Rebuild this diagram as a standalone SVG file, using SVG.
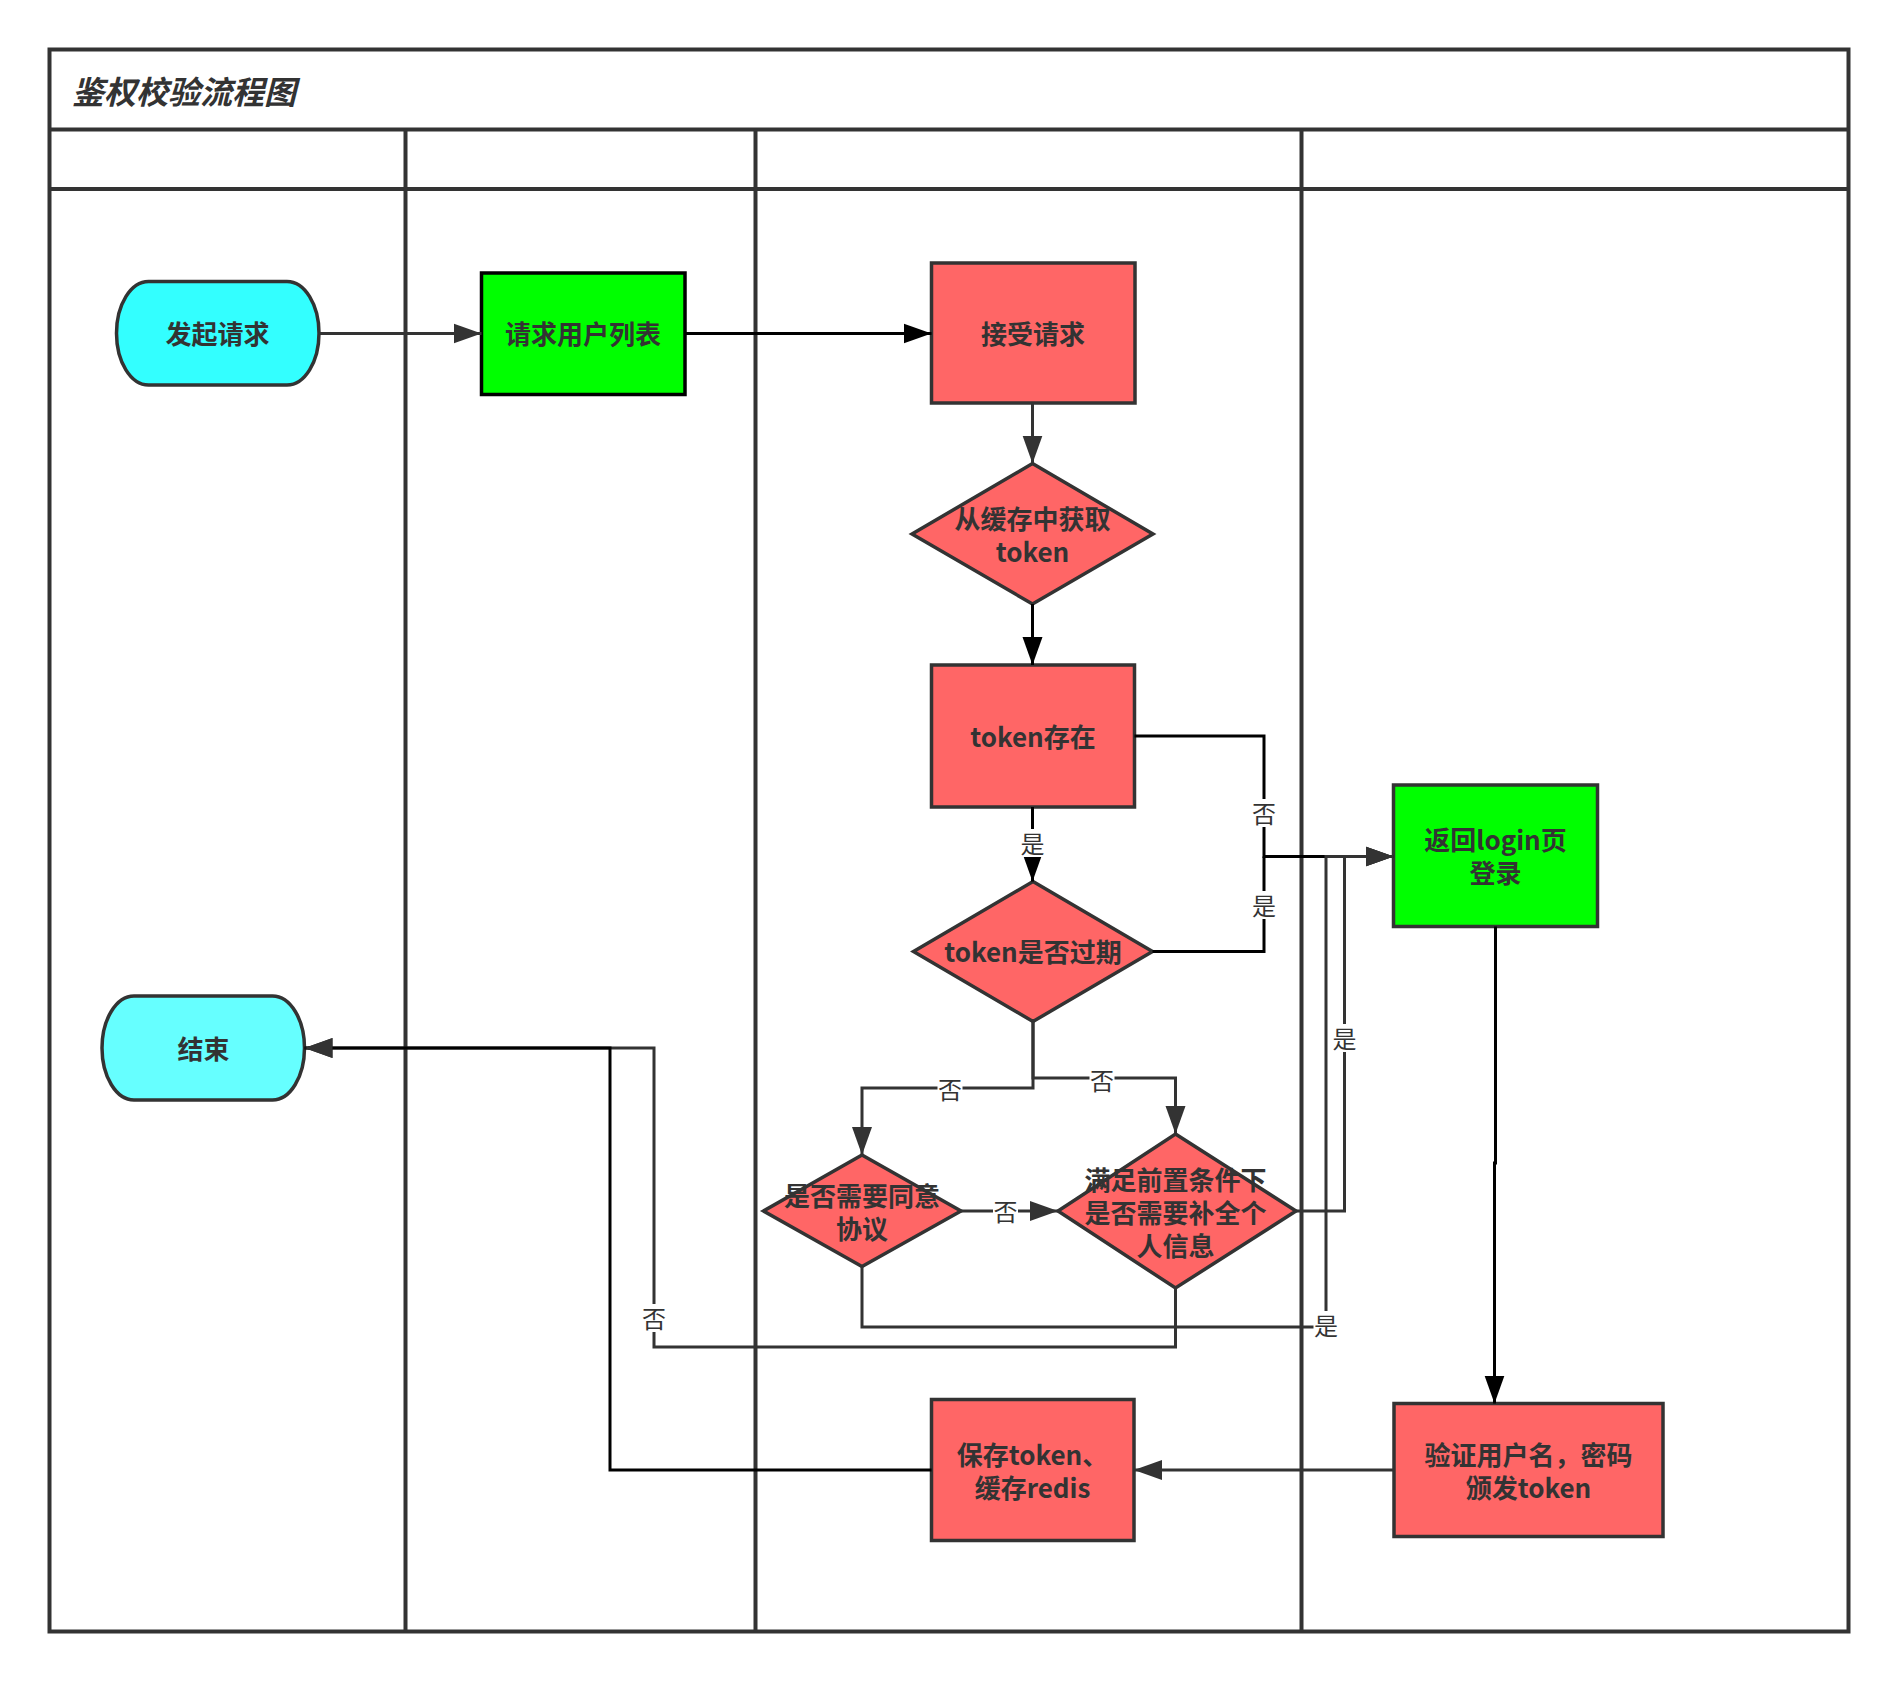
<svg xmlns="http://www.w3.org/2000/svg" width="1898" height="1682" viewBox="0 0 1898 1682">
  <style>
    .lane { fill: none; stroke: #333333; stroke-width: 4; }
    .node { stroke: #333333; stroke-width: 3.5; }
    .red { fill: #FF6666; }
    .green { fill: #00FF00; }
    .label { font-family: "Noto Sans CJK SC", "Liberation Sans", sans-serif; font-size: 26px; font-weight: bold; fill: #333333; text-anchor: middle; dominant-baseline: central; }
    .title { font-family: "Noto Sans CJK SC", "Liberation Sans", sans-serif; font-size: 32px; font-weight: bold; font-style: italic; fill: #333333; dominant-baseline: central; }
    .edge { fill: none; stroke-width: 3; }
    .dark { stroke: #333333; }
    .black { stroke: #000000; }
    .elabel { font-family: "Noto Sans CJK SC", "Liberation Sans", sans-serif; font-size: 24px; fill: #333333; text-anchor: middle; dominant-baseline: central; }
    .lbg { fill: #FFFFFF; }
  </style>
  <defs>
    <marker id="arrowDark" markerUnits="userSpaceOnUse" markerWidth="30" markerHeight="22" viewBox="0 0 30 22" refX="28" refY="11" orient="auto">
      <path d="M0,1 L28,11 L0,21 Z" fill="#333333"/>
    </marker>
    <marker id="arrowBlack" markerUnits="userSpaceOnUse" markerWidth="30" markerHeight="22" viewBox="0 0 30 22" refX="28" refY="11" orient="auto">
      <path d="M0,1 L28,11 L0,21 Z" fill="#000000"/>
    </marker>
  </defs>

  <rect width="1898" height="1682" fill="#FFFFFF"/>

  <!-- swimlane frame -->
  <g id="pool">
    <rect class="lane" x="49.5" y="49.5" width="1799" height="1582"/>
    <line class="lane" x1="49.5" y1="129.5" x2="1848.5" y2="129.5"/>
    <line class="lane" x1="49.5" y1="189" x2="1848.5" y2="189"/>
    <line class="lane" x1="405.5" y1="129.5" x2="405.5" y2="1631.5"/>
    <line class="lane" x1="755.5" y1="129.5" x2="755.5" y2="1631.5"/>
    <line class="lane" x1="1301.5" y1="129.5" x2="1301.5" y2="1631.5"/>
    <text class="title" x="72" y="90">鉴权校验流程图</text>
  </g>

  <!-- nodes -->
  <g id="start">
    <rect class="node" x="116.5" y="281.5" width="202.5" height="103.5" rx="32" ry="51.75" fill="#33FFFF"/>
    <text class="label" x="217.5" y="332.5">发起请求</text>
  </g>
  <g id="request-user-list">
    <rect x="481.5" y="273" width="203.5" height="121.5" fill="#00FF00" stroke="#000000" stroke-width="3.5"/>
    <text class="label" x="583" y="332.5">请求用户列表</text>
  </g>
  <g id="accept-request">
    <rect class="node red" x="931.5" y="263" width="203.5" height="140"/>
    <text class="label" x="1033" y="332.5">接受请求</text>
  </g>
  <g id="get-token-from-cache">
    <polygon class="node red" points="1032.5,463.5 1153,534 1032.5,604 912,534"/>
    <text class="label" x="1032.5" y="517.5">从缓存中获取<tspan x="1032.5" dy="32">token</tspan></text>
  </g>
  <g id="token-exists">
    <rect class="node red" x="931.5" y="665" width="203" height="142"/>
    <text class="label" x="1033" y="735.5">token存在</text>
  </g>
  <g id="token-expired">
    <polygon class="node red" points="1033,881.5 1152.5,951.5 1033,1021.5 913.5,951.5"/>
    <text class="label" x="1033" y="950.5">token是否过期</text>
  </g>
  <g id="need-agreement">
    <polygon class="node red" points="862,1155 961,1211 862,1266.5 763.5,1211"/>
    <text class="label" x="862" y="1194.5">是否需要同意<tspan x="862" dy="32">协议</tspan></text>
  </g>
  <g id="need-profile">
    <polygon class="node red" points="1175.5,1134 1296,1211 1175.5,1288 1058,1211"/>
    <text class="label" x="1175.5" y="1178.5">满足前置条件下<tspan x="1175.5" dy="32.5">是否需要补全个</tspan><tspan x="1175.5" dy="32.5">人信息</tspan></text>
  </g>
  <g id="login-page">
    <rect class="node green" x="1393.5" y="785" width="204" height="141.5"/>
    <text class="label" x="1495.5" y="838.5">返回login页<tspan x="1495.5" dy="32.5">登录</tspan></text>
  </g>
  <g id="verify-user">
    <rect class="node red" x="1394" y="1403.5" width="269" height="133"/>
    <text class="label" x="1528.5" y="1453.5">验证用户名，密码<tspan x="1528.5" dy="32.5">颁发token</tspan></text>
  </g>
  <g id="save-token">
    <rect class="node red" x="931.5" y="1399.5" width="202.5" height="141"/>
    <text class="label" x="1032.5" y="1453.5">保存token、<tspan x="1032.5" dy="32">缓存redis</tspan></text>
  </g>
  <g id="end">
    <rect class="node" x="102" y="996" width="202.5" height="104" rx="32" ry="52" fill="#66FFFF"/>
    <text class="label" x="203.5" y="1047.5">结束</text>
  </g>

  <!-- connectors -->
  <g id="connectors">
    <path class="edge dark" d="M319 333.5 H481.5" marker-end="url(#arrowDark)"/>
    <path class="edge black" d="M685 333.5 H931.5" marker-end="url(#arrowBlack)"/>
    <path class="edge dark" d="M1032.5 403 V463.5" marker-end="url(#arrowDark)"/>
    <path class="edge black" d="M1032.5 604 V665" marker-end="url(#arrowBlack)"/>
    <path class="edge black" d="M1032.5 807 V881.5" marker-end="url(#arrowBlack)"/>
    <path class="edge black" d="M1134.5 736 H1264 V856.5 H1393.5" marker-end="url(#arrowDark)"/>
    <path class="edge black" d="M1152.5 951.5 H1264 V856.5"/>
    <path class="edge dark" d="M1033 1021.5 V1088 H862 V1155" marker-end="url(#arrowDark)"/>
    <path class="edge dark" d="M1033 1021.5 V1078 H1175.5 V1134" marker-end="url(#arrowDark)"/>
    <path class="edge dark" d="M961 1211 H1058" marker-end="url(#arrowDark)"/>
    <path class="edge dark" d="M1296 1211 H1344.5 V856.5 H1393.5" marker-end="url(#arrowDark)"/>
    <path class="edge dark" d="M862 1266.5 V1327 H1326 V856.5 H1393.5" marker-end="url(#arrowDark)"/>
    <path class="edge dark" d="M1175.5 1288 V1347 H654 V1048 H304.5" marker-end="url(#arrowDark)"/>
    <path class="edge black" d="M1495.5 926.5 V1163 H1494.5 V1403.5" marker-end="url(#arrowBlack)"/>
    <path class="edge dark" d="M1394 1470 H1134" marker-end="url(#arrowDark)"/>
    <path class="edge black" d="M931.5 1470 H610 V1048 H304.5" marker-end="url(#arrowDark)"/>

    <!-- edge labels -->
    <rect class="lbg" x="1020" y="829" width="25" height="28"/>
    <text class="elabel" x="1032.5" y="842">是</text>
    <rect class="lbg" x="1251.5" y="799" width="25" height="28"/>
    <text class="elabel" x="1264" y="812">否</text>
    <rect class="lbg" x="1251.5" y="891" width="25" height="28"/>
    <text class="elabel" x="1264" y="904">是</text>
    <rect class="lbg" x="937.5" y="1075" width="25" height="28"/>
    <text class="elabel" x="950" y="1088">否</text>
    <rect class="lbg" x="1089.5" y="1066" width="25" height="28"/>
    <text class="elabel" x="1102" y="1079">否</text>
    <rect class="lbg" x="993" y="1197" width="25" height="28"/>
    <text class="elabel" x="1005.5" y="1210">否</text>
    <rect class="lbg" x="1332" y="1024" width="25" height="28"/>
    <text class="elabel" x="1344.5" y="1037">是</text>
    <rect class="lbg" x="1313.5" y="1311" width="25" height="28"/>
    <text class="elabel" x="1326" y="1324">是</text>
    <rect class="lbg" x="641.5" y="1304" width="25" height="28"/>
    <text class="elabel" x="654" y="1317">否</text>
  </g>
</svg>
